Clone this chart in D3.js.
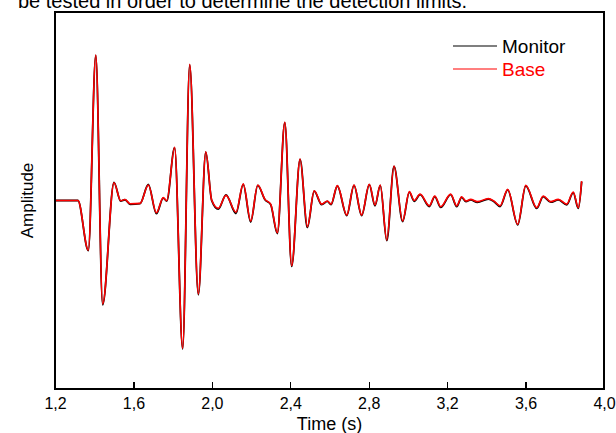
<!DOCTYPE html>
<html lang="en">
	<head>
		<meta charset="utf-8">
		<title>Monitor vs Base waveform</title>
		<script type="text/javascript" src="https://cdn.jsdelivr.net/npm/d3@7"></script>
		<style type="text/css">
			body { margin: 0; background: #fff; }
			.axis path, .axis line { stroke: #000; stroke-width: 1.3px; shape-rendering: crispEdges; }
			.axis text { font-family: Arial, "Liberation Sans", sans-serif; font-size: 16px; fill: #000; }
			text { font-family: Arial, "Liberation Sans", sans-serif; }
		</style>
	</head>
	<body>
		<script type="text/javascript">

			var time = [1.200, 1.317, 1.370, 1.408, 1.443, 1.501, 1.535, 1.557, 1.583, 1.634,
				1.676, 1.717, 1.752, 1.770, 1.810, 1.851, 1.887, 1.931, 1.969, 1.999,
				2.033, 2.072, 2.123, 2.160, 2.198, 2.234, 2.271, 2.300, 2.334, 2.372,
				2.407, 2.450, 2.487, 2.522, 2.560, 2.589, 2.608, 2.640, 2.688, 2.725,
				2.764, 2.803, 2.832, 2.859, 2.892, 2.929, 2.973, 3.007, 3.032, 3.062,
				3.109, 3.137, 3.167, 3.218, 3.249, 3.274, 3.296, 3.320, 3.354, 3.410,
				3.439, 3.470, 3.509, 3.560, 3.601, 3.657, 3.690, 3.728, 3.767, 3.810,
				3.843, 3.869, 3.886];

			// amplitude (arbitrary units)
			var base = [0, 0, -26.3, 77.2, -54.9, 9.4, -0.1, 0.5, -1.7, -1.5,
				8.2, -6.5, 1.5, -0.1, 28.2, -78.4, 72.3, -49.6, 25.9, 0.3,
				-4.1, 2.7, -6.2, 8.8, -10.9, 8.2, 0.6, -1.9, -17.1, 41.5,
				-34.6, 22.0, -13.9, 5.2, -1.9, -0.3, -1.9, 7.9, -7.7, 8.2,
				-7.7, 8.6, -2.4, 8.2, -21.0, 18.3, -10.9, 4.7, 0, 3.4,
				-2.8, 2.4, -3.3, 3.4, -2.9, 2.0, -0.3, 0.6, -0.6, 1.0,
				-0.3, -2.8, 5.9, -12.6, 8.1, -3.8, 2.4, -0.6, 0.6, -1.9,
				4.5, -3.8, 10.3];

			var monitor = [0, 0, -26.6, 77.0, -55.3, 9.6, -0.3, 0.4, -2.0, -1.6,
				8.5, -7.0, 1.3, -0.3, 28.0, -78.8, 72.0, -50.0, 25.6, 0.1,
				-4.6, 3.0, -6.9, 8.6, -11.4, 8.0, 0.4, -2.2, -17.5, 41.3,
				-35.0, 21.8, -14.3, 5.0, -2.2, -0.5, -2.2, 7.7, -8.0, 8.0,
				-8.0, 8.4, -2.8, 8.0, -21.3, 18.1, -11.2, 4.4, -0.4, 3.1,
				-3.2, 2.1, -3.7, 3.1, -3.2, 1.7, -0.6, 0.3, -1.0, 0.7,
				-0.6, -3.2, 5.6, -12.9, 7.8, -4.2, 2.1, -0.9, 0.3, -2.3,
				4.2, -4.2, 10.0];

			var xTicks = [1.2, 1.6, 2.0, 2.4, 2.8, 3.2, 3.6, 4.0];

			var margin = {top: 12, right: 12, bottom: 44, left: 55};
			var W = 616, H = 433;
			var w = W - margin.left - margin.right,
				h = H - margin.top - margin.bottom;

			var xScale = d3.scaleLinear().domain([1.2, 4.0]).range([0, w]);
			var yScale = d3.scaleLinear().domain([-100, 100]).range([h, 0]);

			var comma = d3.formatLocale({decimal: ",", thousands: ".", grouping: [3], currency: ["", ""]}).format(".1f");

			var svg = d3.select("body").append("svg")
				.attr("width", W)
				.attr("height", H);

			// clipped caption line from the page above
			svg.append("text")
				.attr("x", 18)
				.attr("y", 8)
				.attr("font-size", "20px")
				.attr("fill", "#000")
				.text("be tested in order to determine the detection limits.");

			var g = svg.append("g")
				.attr("transform", "translate(" + margin.left + "," + margin.top + ")");

			var line = function(vals) {
				return d3.line()
					.x(function(d, i) { return xScale(time[i]); })
					.y(function(d) { return yScale(d); })
					.curve(d3.curveMonotoneX)(vals);
			};

			g.append("path")
				.attr("d", line(monitor))
				.attr("fill", "none")
				.attr("stroke", "#000")
				.attr("stroke-width", 1.8);

			g.append("path")
				.attr("d", line(base))
				.attr("fill", "none")
				.attr("stroke", "#ff0000")
				.attr("stroke-width", 1.6);

			// frame
			g.append("rect")
				.attr("width", w)
				.attr("height", h)
				.attr("fill", "none")
				.attr("stroke", "#000")
				.attr("stroke-width", 1.3)
				.attr("shape-rendering", "crispEdges");

			var xAxis = d3.axisBottom(xScale)
				.tickValues(xTicks)
				.tickFormat(comma)
				.tickSizeInner(-7)
				.tickSizeOuter(0)
				.tickPadding(9);

			g.append("g")
				.attr("class", "axis")
				.attr("transform", "translate(0," + h + ")")
				.call(xAxis)
				.select(".domain").remove();

			g.append("text")
				.attr("x", w / 2)
				.attr("y", h + 41)
				.attr("text-anchor", "middle")
				.attr("font-size", "18px")
				.text("Time (s)");

			g.append("text")
				.attr("transform", "translate(-22," + (h / 2) + ") rotate(-90)")
				.attr("text-anchor", "middle")
				.attr("font-size", "17px")
				.text("Amplitude");

			// legend
			var legend = [{name: "Monitor", color: "#000"}, {name: "Base", color: "#ff0000"}];
			var lg = g.selectAll(".legend").data(legend).enter().append("g")
				.attr("class", "legend")
				.attr("transform", function(d, i) { return "translate(398," + (34 + i * 23) + ")"; });
			lg.append("line")
				.attr("x1", 0).attr("x2", 44)
				.attr("stroke", function(d) { return d.color; })
				.attr("stroke-width", 1.2);
			lg.append("text")
				.attr("x", 49)
				.attr("dy", "0.35em")
				.attr("font-size", "19px")
				.attr("fill", function(d) { return d.color; })
				.text(function(d) { return d.name; });
		</script>
	</body>
</html>
